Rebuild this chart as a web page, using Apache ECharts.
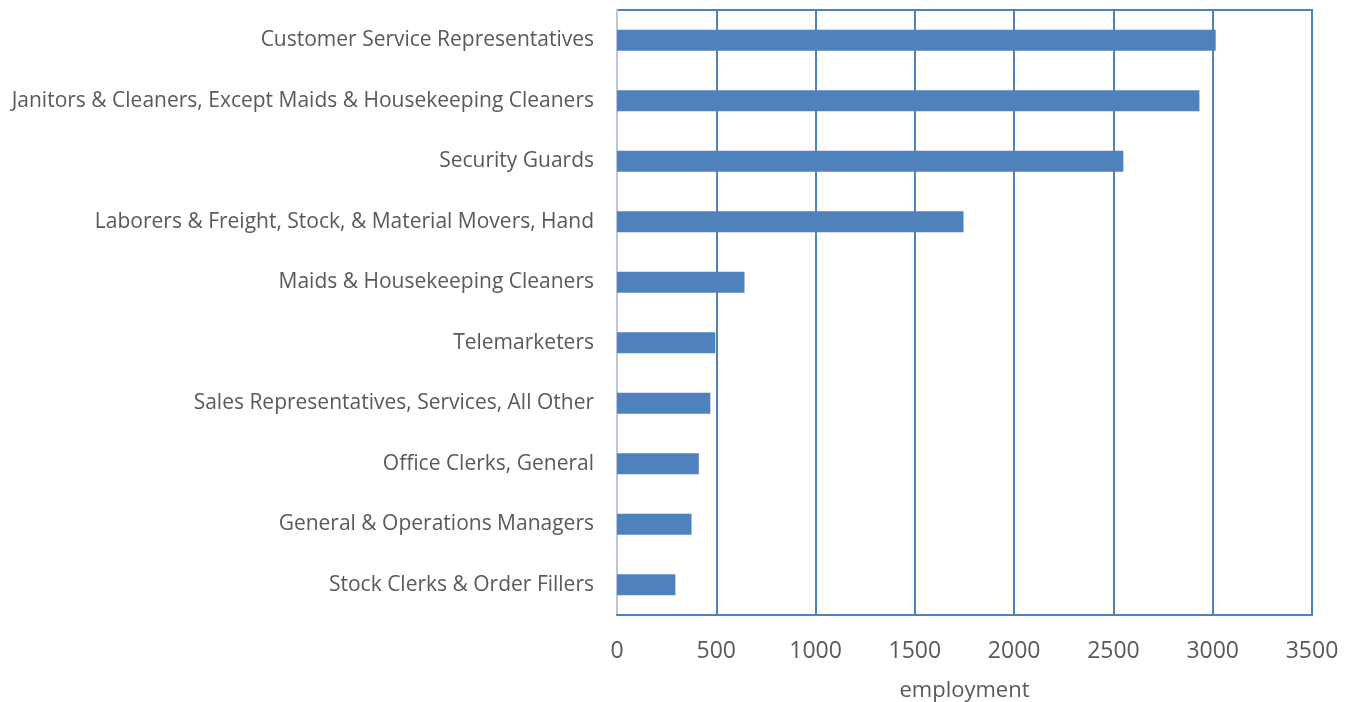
<!DOCTYPE html>
<html>
<head>
<meta charset="utf-8">
<script src="https://cdn.jsdelivr.net/npm/echarts@6/dist/echarts.min.js"></script>
<style>
html,body{margin:0;padding:0;background:#fff;overflow:hidden;}
#chart{width:1351px;height:702px;}
</style>
</head>
<body>
<div id="chart"></div>
<script>
var categories = [
  "Customer Service Representatives",
  "Janitors & Cleaners, Except Maids & Housekeeping Cleaners",
  "Security Guards",
  "Laborers & Freight, Stock, & Material Movers, Hand",
  "Maids & Housekeeping Cleaners",
  "Telemarketers",
  "Sales Representatives, Services, All Other",
  "Office Clerks, General",
  "General & Operations Managers",
  "Stock Clerks & Order Fillers"
];
var employment = [3015, 2933, 2550, 1745, 642, 495, 470, 412, 375, 294];
var xTicks = [0, 500, 1000, 1500, 2000, 2500, 3000, 3500];

var FONT = "Open Sans";
var chart = echarts.init(document.getElementById('chart'));
chart.setOption({
  animation: false,
  backgroundColor: '#ffffff',
  grid: {
    left: 617, right: 39, top: 10, bottom: 87,
    outerBoundsMode: 'none', containLabel: false,
    show: true, borderColor: '#4F81BD', borderWidth: 2, backgroundColor: 'transparent'
  },
  xAxis: {
    type: 'value',
    min: xTicks[0], max: xTicks[xTicks.length - 1], interval: 500,
    name: 'employment', nameLocation: 'middle', nameGap: 65,
    nameTextStyle: { color: '#595959', fontFamily: FONT, fontSize: 22 },
    axisLine: { show: true, lineStyle: { color: '#4F81BD', width: 2 } },
    axisTick: { show: false },
    axisLabel: { color: '#595959', fontFamily: FONT, fontSize: 23, margin: 25,
      formatter: function (v) { return String(v); } },
    splitLine: { show: true, lineStyle: { color: '#4F81BD', width: 2 } }
  },
  yAxis: {
    type: 'category', data: categories, inverse: true,
    axisLine: { show: true, lineStyle: { color: '#BCC8DA', width: 2 } },
    axisTick: { show: false },
    axisLabel: { color: '#595959', fontFamily: FONT, fontSize: 21, margin: 23 },
    splitLine: { show: false }
  },
  series: [{
    type: 'bar', data: employment, barWidth: '35%',
    itemStyle: { color: '#4F81BD' }
  }]
});
</script>
</body>
</html>
